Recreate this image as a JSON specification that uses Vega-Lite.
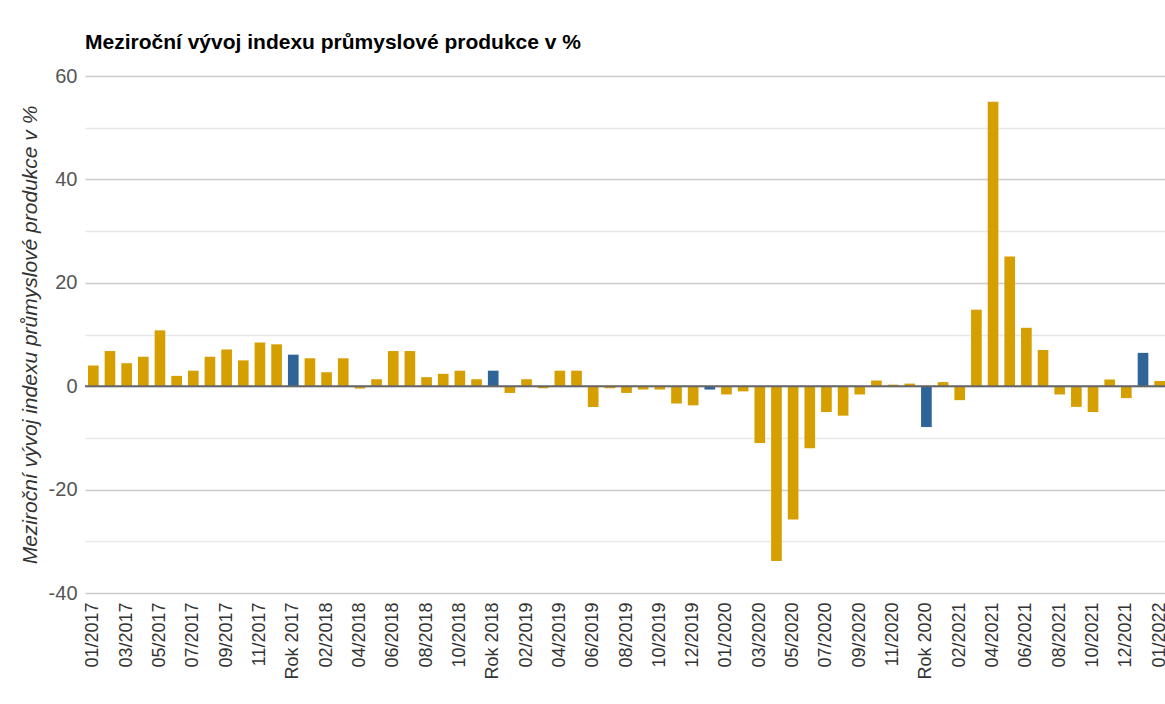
{
  "$schema": "https://vega.github.io/schema/vega-lite/v6.json",
  "autosize": "none",
  "width": 1083,
  "height": 517,
  "padding": {"left": 85, "top": 76, "right": 0, "bottom": 111},
  "background": "white",
  "config": {
    "font": "Liberation Sans",
    "view": {"stroke": null}
  },
  "title": {
    "text": "Meziroční vývoj indexu průmyslové produkce v %",
    "anchor": "start",
    "frame": "group",
    "fontSize": 21,
    "fontWeight": "bold",
    "color": "#000000",
    "offset": 13
  },
  "layer": [
    {
      "data": {
        "values": [
          {"k": "01/2017", "v": 4.0, "t": "m"},
          {"k": "02/2017", "v": 6.8, "t": "m"},
          {"k": "03/2017", "v": 4.45, "t": "m"},
          {"k": "04/2017", "v": 5.7, "t": "m"},
          {"k": "05/2017", "v": 10.8, "t": "m"},
          {"k": "06/2017", "v": 2.0, "t": "m"},
          {"k": "07/2017", "v": 3.0, "t": "m"},
          {"k": "08/2017", "v": 5.7, "t": "m"},
          {"k": "09/2017", "v": 7.1, "t": "m"},
          {"k": "10/2017", "v": 5.0, "t": "m"},
          {"k": "11/2017", "v": 8.45, "t": "m"},
          {"k": "12/2017", "v": 8.1, "t": "m"},
          {"k": "Rok 2017", "v": 6.1, "t": "r"},
          {"k": "01/2018", "v": 5.4, "t": "m"},
          {"k": "02/2018", "v": 2.7, "t": "m"},
          {"k": "03/2018", "v": 5.4, "t": "m"},
          {"k": "04/2018", "v": -0.45, "t": "m"},
          {"k": "05/2018", "v": 1.35, "t": "m"},
          {"k": "06/2018", "v": 6.8, "t": "m"},
          {"k": "07/2018", "v": 6.8, "t": "m"},
          {"k": "08/2018", "v": 1.75, "t": "m"},
          {"k": "09/2018", "v": 2.4, "t": "m"},
          {"k": "10/2018", "v": 3.0, "t": "m"},
          {"k": "11/2018", "v": 1.35, "t": "m"},
          {"k": "Rok 2018", "v": 3.0, "t": "r"},
          {"k": "01/2019", "v": -1.3, "t": "m"},
          {"k": "02/2019", "v": 1.35, "t": "m"},
          {"k": "03/2019", "v": -0.4, "t": "m"},
          {"k": "04/2019", "v": 3.0, "t": "m"},
          {"k": "05/2019", "v": 3.0, "t": "m"},
          {"k": "06/2019", "v": -4.0, "t": "m"},
          {"k": "07/2019", "v": -0.4, "t": "m"},
          {"k": "08/2019", "v": -1.3, "t": "m"},
          {"k": "09/2019", "v": -0.65, "t": "m"},
          {"k": "10/2019", "v": -0.65, "t": "m"},
          {"k": "11/2019", "v": -3.35, "t": "m"},
          {"k": "12/2019", "v": -3.7, "t": "m"},
          {"k": "Rok 2019", "v": -0.65, "t": "r"},
          {"k": "01/2020", "v": -1.6, "t": "m"},
          {"k": "02/2020", "v": -1.0, "t": "m"},
          {"k": "03/2020", "v": -11.0, "t": "m"},
          {"k": "04/2020", "v": -33.8, "t": "m"},
          {"k": "05/2020", "v": -25.8, "t": "m"},
          {"k": "06/2020", "v": -12.0, "t": "m"},
          {"k": "07/2020", "v": -5.0, "t": "m"},
          {"k": "08/2020", "v": -5.7, "t": "m"},
          {"k": "09/2020", "v": -1.6, "t": "m"},
          {"k": "10/2020", "v": 1.1, "t": "m"},
          {"k": "11/2020", "v": 0.3, "t": "m"},
          {"k": "12/2020", "v": 0.5, "t": "m"},
          {"k": "Rok 2020", "v": -7.9, "t": "r"},
          {"k": "01/2021", "v": 0.8, "t": "m"},
          {"k": "02/2021", "v": -2.7, "t": "m"},
          {"k": "03/2021", "v": 14.8, "t": "m"},
          {"k": "04/2021", "v": 55.0, "t": "m"},
          {"k": "05/2021", "v": 25.1, "t": "m"},
          {"k": "06/2021", "v": 11.3, "t": "m"},
          {"k": "07/2021", "v": 7.0, "t": "m"},
          {"k": "08/2021", "v": -1.6, "t": "m"},
          {"k": "09/2021", "v": -4.0, "t": "m"},
          {"k": "10/2021", "v": -5.0, "t": "m"},
          {"k": "11/2021", "v": 1.3, "t": "m"},
          {"k": "12/2021", "v": -2.3, "t": "m"},
          {"k": "Rok 2021", "v": 6.45, "t": "r"},
          {"k": "01/2022", "v": 1.0, "t": "m"}
        ]
      },
      "mark": {"type": "bar"},
      "encoding": {
        "x": {
          "field": "k",
          "type": "nominal",
          "sort": null,
          "scale": {"paddingInner": 0.36, "paddingOuter": 0.18},
          "axis": {
            "title": null,
            "domain": false,
            "ticks": false,
            "grid": false,
            "labelAngle": -90,
            "labelAlign": "right",
            "labelBaseline": "middle",
            "labelPadding": 9,
            "labelFontSize": 18,
            "labelColor": "#333333",
            "labelOverlap": false,
            "values": ["01/2017", "03/2017", "05/2017", "07/2017", "09/2017", "11/2017", "Rok 2017", "02/2018", "04/2018", "06/2018", "08/2018", "10/2018", "Rok 2018", "02/2019", "04/2019", "06/2019", "08/2019", "10/2019", "12/2019", "01/2020", "03/2020", "05/2020", "07/2020", "09/2020", "11/2020", "Rok 2020", "02/2021", "04/2021", "06/2021", "08/2021", "10/2021", "12/2021", "01/2022"]
          }
        },
        "y": {
          "field": "v",
          "type": "quantitative",
          "scale": {"domain": [-40, 60], "nice": false, "zero": false},
          "axis": {
            "title": "Meziroční vývoj indexu průmyslové produkce v %",
            "titleFontSize": 21,
            "titleFontStyle": "italic",
            "titleFontWeight": "normal",
            "titleColor": "#333333",
            "titlePadding": 8,
            "domain": false,
            "ticks": false,
            "values": [-40, -30, -20, -10, 0, 10, 20, 30, 40, 50, 60],
            "labelExpr": "datum.value % 20 === 0 ? '' + datum.value : ''",
            "labelFontSize": 20,
            "labelColor": "#555555",
            "labelPadding": 8,
            "gridColor": {"condition": {"test": "datum.value % 20 === 0", "value": "#cccccc"}, "value": "#e8e8e8"},
            "gridWidth": 1.5
          }
        },
        "color": {
          "field": "t",
          "type": "nominal",
          "scale": {"domain": ["m", "r"], "range": ["#d59f00", "#2f6499"]},
          "legend": null
        }
      }
    },
    {
      "data": {"values": [{"z": 0}]},
      "mark": {"type": "rule", "color": "#666666", "strokeWidth": 2},
      "encoding": {"y": {"field": "z", "type": "quantitative"}}
    }
  ]
}
